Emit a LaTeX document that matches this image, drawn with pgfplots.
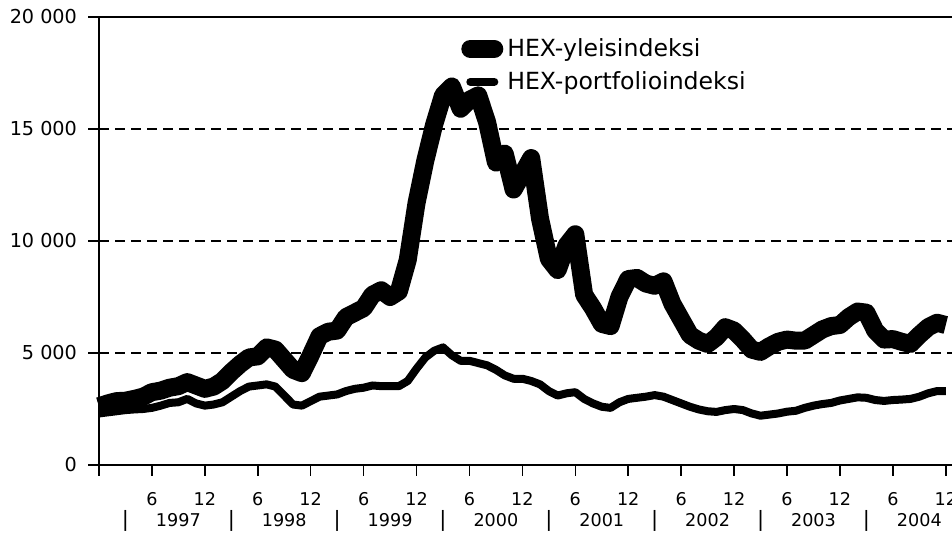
\documentclass[border=0pt]{standalone}
\usepackage{fontspec}
\setmainfont{DejaVu Sans}
\usepackage{pgfplots}
\pgfplotsset{compat=1.18}
\usepackage{pgfplotstable}

\tikzset{
  yearlab/.style={font=\fontsize{8.8}{10}\selectfont, yshift=-27.5pt},
  seplab/.style={font=\fontsize{10.5}{12}\selectfont, yshift=-28pt},
}

\pgfplotstableread{
m yle port
0 2620 2300
1 2750 2350
2 2850 2400
3 2870 2450
4 2950 2480
5 3050 2500
6 3250 2550
7 3320 2650
8 3450 2770
9 3520 2800
10 3700 2950
11 3550 2750
12 3400 2650
13 3500 2700
14 3750 2800
15 4150 3050
16 4500 3300
17 4800 3500
18 4850 3550
19 5250 3600
20 5150 3500
21 4700 3100
22 4250 2700
23 4100 2650
24 4900 2850
25 5750 3050
26 5950 3100
27 6000 3150
28 6600 3300
29 6800 3400
30 7000 3450
31 7600 3550
32 7800 3520
33 7500 3520
34 7750 3520
35 9150 3750
36 11700 4300
37 13600 4800
38 15200 5100
39 16500 5250
40 16900 4900
41 15900 4650
42 16300 4650
43 16500 4550
44 15300 4450
45 13500 4250
46 13900 4000
47 12300 3850
48 13000 3850
49 13700 3750
50 11000 3600
51 9200 3300
52 8700 3100
53 9800 3200
54 10300 3250
55 7600 2950
56 7000 2750
57 6300 2600
58 6200 2550
59 7500 2800
60 8300 2950
61 8350 3000
62 8100 3050
63 8000 3120
64 8200 3050
65 7200 2900
66 6500 2750
67 5800 2600
68 5550 2480
69 5400 2400
70 5700 2370
71 6150 2450
72 6000 2500
73 5600 2450
74 5150 2300
75 5050 2200
76 5300 2250
77 5500 2300
78 5600 2380
79 5550 2420
80 5550 2550
81 5800 2650
82 6050 2720
83 6200 2770
84 6250 2880
85 6600 2950
86 6850 3020
87 6800 3000
88 6000 2900
89 5600 2860
90 5620 2900
91 5500 2920
92 5400 2950
93 5800 3050
94 6150 3200
95 6350 3300
96 6250 3300
}\datatable

\begin{document}
\begin{tikzpicture}
\begin{axis}[
  scale only axis,
  width=427.8pt, height=224pt,
  xmin=0, xmax=97, ymin=0, ymax=20000,
  clip=false,
  scaled y ticks=false,
  axis line style={line width=1pt},
  xtick={0,6,...,96},
  xticklabels={,6,12,6,12,6,12,6,12,6,12,6,12,6,12,6,12},
  ytick={0,5000,10000,15000,20000},
  yticklabels={0,5 000,10 000,15 000,20 000},
  xtick pos=bottom, ytick pos=left,
  tick align=outside,
  major tick length=5.5pt,
  tick style={black, line width=0.8pt},
  ymajorgrids,
  grid style={black, line width=0.6pt, dash pattern=on 5pt off 3pt},
  yticklabel style={font=\fontsize{9.6}{11}\selectfont, xshift=-2pt},
  xticklabel style={font=\fontsize{8.8}{10}\selectfont, yshift=-4.5pt},
  legend style={draw=none, fill=none, at={(0.423,0.962)}, anchor=north west,
    font=\fontsize{11.8}{13}\selectfont, row sep=2pt, inner sep=0pt},
  legend cell align=left,
  legend image code/.code={\draw[#1, line cap=round] (0pt,0pt) -- (12pt,0pt);},
]
\addplot[black, line width=9pt, line join=round] table[x=m, y=yle] {\datatable};
\addlegendentry{HEX-yleisindeksi}
\addplot[black, line width=4pt, line join=round] table[x=m, y=port] {\datatable};
\addlegendentry{HEX-portfolioindeksi}

\node[yearlab] at (axis cs:9,0) {1997};
\node[yearlab] at (axis cs:21,0) {1998};
\node[yearlab] at (axis cs:33,0) {1999};
\node[yearlab] at (axis cs:45,0) {2000};
\node[yearlab] at (axis cs:57,0) {2001};
\node[yearlab] at (axis cs:69,0) {2002};
\node[yearlab] at (axis cs:81,0) {2003};
\node[yearlab] at (axis cs:93,0) {2004};
\node[seplab] at (axis cs:3,0) {|};
\node[seplab] at (axis cs:15,0) {|};
\node[seplab] at (axis cs:27,0) {|};
\node[seplab] at (axis cs:39,0) {|};
\node[seplab] at (axis cs:51,0) {|};
\node[seplab] at (axis cs:63,0) {|};
\node[seplab] at (axis cs:75,0) {|};
\node[seplab] at (axis cs:87,0) {|};
\end{axis}
\pgfresetboundingbox
\path[use as bounding box] ([xshift=-49.5pt,yshift=-34pt]current axis.south west) rectangle ++(476pt,266.5pt);
\end{tikzpicture}
\end{document}
